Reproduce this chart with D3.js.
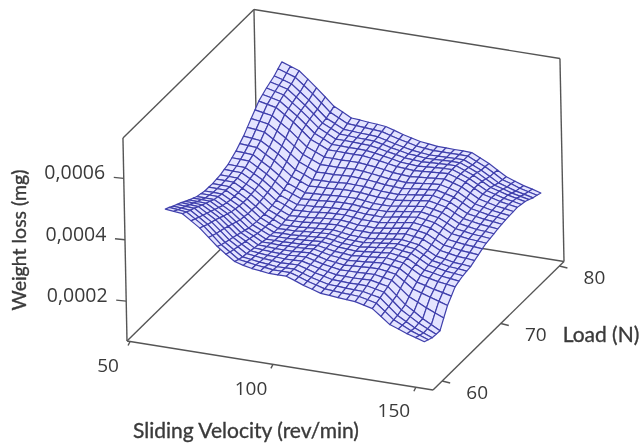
<!DOCTYPE html>
<html><head><meta charset="utf-8">
<style>html,body{margin:0;padding:0;background:#fff}svg{display:block}text{font-family:"Open Sans",sans-serif;fill:#3a3a3a}</style>
<script src="https://cdn.jsdelivr.net/npm/d3@7/dist/d3.min.js"></script></head><body>
<svg id="c" width="644" height="446"></svg>
<script>
const velocityTicks=[50,100,150];
const loadTicks=[60,70,80];
const lossTicks=[200,400,600]; // 1e-6 mg
const lossLabels=["0,0002","0,0004","0,0006"];
const velocities=[60,63,66,69,72,75,78,81,84,87,90,93,96,99,102,105,108,111,114,117,120,123,126,129,132,135,138,141,144,147,150];
const loads=[60,60.67,61.33,62,62.67,63.33,64,64.67,65.33,66,66.67,67.33,68,68.67,69.33,70,70.67,71.33,72,72.67,73.33,74,74.67,75.33,76,76.67,77.33,78,78.67,79.33,80];
// weight loss in 1e-6 mg; rows = load, columns = velocity
const loss=[
[487,484,481,462,443,417,392,371,352,344,338,335,331,331,331,321,310,302,293,291,288,286,284,277,270,249,227,217,206,198,189],
[480,477,474,456,437,411,385,366,346,342,337,334,330,330,330,321,311,303,295,293,291,290,288,282,275,253,230,217,203,193,183],
[472,470,467,449,430,405,380,361,342,338,334,331,328,329,329,320,311,304,297,296,294,293,292,286,280,256,232,216,200,188,177],
[465,463,461,443,425,401,376,358,340,337,333,331,328,329,330,322,313,307,300,299,298,298,298,292,286,262,237,220,203,189,176],
[458,456,454,437,420,396,371,354,337,334,331,330,328,329,330,323,315,309,303,303,302,303,304,298,292,267,242,224,205,190,175],
[450,449,447,431,414,391,367,351,334,332,330,329,328,330,331,324,317,312,307,308,308,309,310,305,300,278,255,242,228,216,204],
[442,441,440,424,407,385,362,347,331,330,328,328,328,330,332,325,318,314,310,312,313,315,316,312,307,288,268,259,250,241,232],
[435,435,434,418,402,380,357,343,328,328,327,328,328,330,332,326,320,317,313,315,317,320,322,318,313,296,278,271,263,257,250],
[428,428,427,412,396,374,352,339,325,325,325,326,327,329,331,326,321,319,316,319,321,324,327,323,319,304,288,282,276,272,268],
[425,425,424,409,393,372,350,337,324,324,324,326,327,329,331,327,322,320,318,321,324,327,330,326,322,307,292,287,281,278,274],
[421,421,420,405,390,369,348,335,322,323,323,325,327,329,331,327,322,321,319,323,326,330,333,329,325,311,296,291,285,282,279],
[421,421,420,405,389,369,348,335,322,323,323,326,328,330,332,328,323,322,321,325,328,332,335,331,327,313,298,293,287,285,282],
[420,420,419,404,388,368,347,335,322,323,323,326,328,330,332,328,324,323,322,326,329,333,336,332,328,314,300,295,289,287,284],
[422,422,421,406,390,370,349,337,325,326,327,330,332,334,336,332,328,328,327,331,334,338,342,338,334,320,306,301,296,294,291],
[424,423,422,407,392,372,351,339,327,329,330,333,336,338,339,336,332,332,331,335,339,344,348,344,339,325,311,307,302,300,297],
[429,428,427,412,396,376,355,344,332,334,335,338,341,342,343,340,337,337,336,341,345,350,354,350,345,331,317,313,309,307,304],
[433,432,431,416,400,380,359,348,337,339,340,343,345,346,347,345,342,342,341,346,351,355,359,355,350,337,323,319,315,313,310],
[442,441,440,424,407,387,366,355,344,346,347,350,352,353,353,350,347,347,347,352,356,360,364,359,354,341,327,323,318,316,313],
[451,450,448,431,414,394,373,362,351,353,354,356,358,359,359,356,352,352,352,357,361,365,369,364,358,345,331,326,321,319,316],
[463,461,459,442,425,404,383,372,360,362,363,365,367,367,366,363,360,360,359,363,367,371,375,369,363,349,335,330,325,322,319],
[475,472,469,452,435,414,392,381,369,370,371,373,375,374,373,370,367,366,365,369,373,377,380,374,367,353,339,334,329,326,322],
[491,488,484,466,448,427,405,393,381,382,382,384,385,384,382,379,375,374,372,376,379,382,385,378,371,357,342,337,331,328,324],
[507,503,498,480,461,439,417,405,393,393,393,394,395,393,390,386,382,381,379,382,385,388,390,383,375,360,345,339,333,329,325],
[523,518,513,494,475,452,429,417,405,405,404,405,405,402,399,395,390,388,386,389,391,394,396,388,379,364,349,342,335,331,326],
[539,533,527,508,488,465,441,429,416,416,415,415,415,411,407,402,397,395,393,395,397,399,401,392,382,367,352,345,337,332,327],
[548,542,535,515,495,472,448,435,421,421,420,420,419,415,410,405,399,397,395,397,399,401,402,392,381,366,351,343,335,330,324],
[557,550,543,522,501,478,454,440,426,426,425,424,423,418,412,407,401,399,397,399,400,401,402,391,380,365,349,341,333,327,321],
[564,557,549,528,506,482,457,444,430,429,427,426,425,419,412,407,401,399,396,397,398,399,399,388,376,360,344,336,327,321,315],
[571,563,554,532,510,485,460,447,433,431,429,428,426,419,412,406,400,397,394,395,395,396,396,384,371,355,339,330,321,315,308],
[582,573,563,541,518,493,467,453,439,437,435,433,431,423,415,409,402,399,396,396,396,396,396,383,370,354,337,328,318,311,304],
[592,582,572,549,525,500,474,460,445,443,440,438,435,427,418,411,404,401,397,397,396,396,395,382,368,351,334,324,314,307,299]
];

const U=d3.scaleLinear().domain([50,150]).range([0.01,0.944]);
const V=d3.scaleLinear().domain([60,80]).range([0.07,0.965]);
const W=d3.scaleLinear().domain([70,725]).range([0,1]);
const proj=(u,v,w)=>[127+306*u+131*v-4*w, 341+49*u-128.5*v-201*w];
const P=(a,b,c)=>proj(U(a),V(b),W(c));
const svg=d3.select("#c");
const line=d3.line();
const frame=svg.append("g").attr("fill","none").attr("stroke","#555").attr("stroke-width",1.4).style("filter","blur(0.4px)");
const T=1.01;
const edges=[
 [[0,0,0],[0,0,T]],[[0,0,0],[1,0,0]],[[1,0,0],[1,1,0]],[[0,0,0],[0,1,0]],[[0,1,0],[1,1,0]],
 [[0,1,0],[0,1,T]],[[1,1,0],[1,1,T]],[[0,1,T],[1,1,T]],[[0,0,T],[0,1,T]]];
frame.selectAll("path.edge").data(edges).join("path").attr("class","edge")
  .attr("d",d=>line(d.map(p=>proj(...p))));
const zAt=d=>proj(0,0,W(d));
frame.selectAll("path.zt").data(lossTicks).join("path").attr("class","zt")
  .attr("d",d=>{const p=zAt(d);return line([p,[p[0]-10,p[1]-1]]);});
frame.selectAll("path.xt").data(velocityTicks).join("path").attr("class","xt")
  .attr("d",d=>{const p=proj(U(d),0,0);return line([p,[p[0]-2,p[1]+4]]);});
frame.selectAll("path.lt").data(loadTicks).join("path").attr("class","lt")
  .attr("d",d=>{const p=proj(1,V(d),0);return line([p,[p[0]+8,p[1]+2]]);});
// mesh, back to front
const cells=[];
for(let j=loads.length-2;j>=0;j--)for(let i=0;i<velocities.length-1;i++)cells.push([i,j]);
svg.append("g").style("filter","blur(0.5px)")
 .selectAll("path").data(cells).join("path")
 .attr("fill","#e4e4ff").attr("stroke","#4040ac").attr("stroke-width",1.2).attr("stroke-linejoin","round")
 .attr("d",([i,j])=>line([
   P(velocities[i],loads[j],loss[j][i]),
   P(velocities[i+1],loads[j],loss[j][i+1]),
   P(velocities[i+1],loads[j+1],loss[j+1][i+1]),
   P(velocities[i],loads[j+1],loss[j+1][i])])+"Z");
// labels
const labels=svg.append("g").style("filter","blur(0.4px)").attr("text-anchor","middle");
labels.selectAll("text.z").data(lossTicks).join("text").attr("class","z")
  .attr("x",d=>zAt(d)[0]-49).attr("y",d=>zAt(d)[1]-6).attr("dy","0.35em")
  .attr("font-size",19.5).text((d,i)=>lossLabels[i]);
labels.selectAll("text.x").data(velocityTicks).join("text").attr("class","x")
  .attr("x",d=>proj(U(d),0,0)[0]-22).attr("y",d=>proj(U(d),0,0)[1]+23.5).attr("dy","0.35em")
  .attr("font-size",19).text(d=>d);
labels.selectAll("text.l").data(loadTicks).join("text").attr("class","l")
  .attr("x",d=>proj(1,V(d),0)[0]+35).attr("y",d=>proj(1,V(d),0)[1]+11).attr("dy","0.35em")
  .attr("font-size",19).text(d=>d);
const titled=sel=>sel.attr("dy","0.35em").attr("stroke","#3a3a3a").attr("stroke-width",0.35).style("font-family","Lato");
labels.append("text").attr("x",246).attr("y",431).attr("font-size",21).text("Sliding Velocity (rev/min)").call(titled);
labels.append("text").attr("x",601).attr("y",335).attr("font-size",21).text("Load (N)").call(titled);
labels.append("text").attr("transform","translate(19,240) rotate(-90)").attr("font-size",19.5).text("Weight loss (mg)").call(titled);
</script></body></html>
